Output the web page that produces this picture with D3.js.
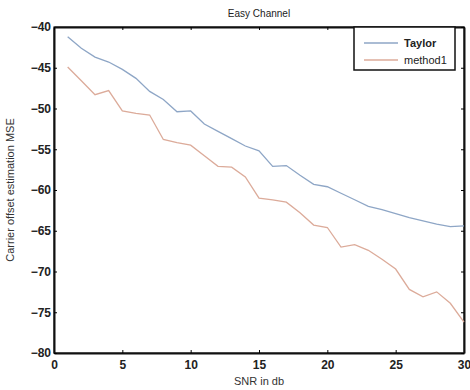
<!DOCTYPE html>
<html lang="en">
	<head>
		<meta charset="utf-8">
		<title>easy channel</title>
		<script type="text/javascript" src="https://cdn.jsdelivr.net/npm/d3@7"></script>
		<style type="text/css">
			body{margin:0;background:#fff}
			text{font-family:"Liberation Sans",Arial,sans-serif}
		</style>
	</head>
	<body>
		<div id="chart"></div>
		<script type="text/javascript">

var snr = d3.range(1,31)
var taylor = [-41.2,-42.6,-43.7,-44.3,-45.2,-46.3,-47.9,-48.9,-50.4,-50.3,
	-51.9,-52.8,-53.7,-54.6,-55.2,-57.1,-57.0,-58.2,-59.3,-59.6,
	-60.4,-61.2,-62.0,-62.4,-62.9,-63.4,-63.8,-64.2,-64.5,-64.4]
var method1 = [-44.9,-46.6,-48.3,-47.8,-50.3,-50.6,-50.8,-53.8,-54.2,-54.5,
	-55.8,-57.1,-57.2,-58.4,-61.0,-61.2,-61.5,-62.8,-64.3,-64.6,
	-67.0,-66.7,-67.4,-68.5,-69.7,-72.2,-73.1,-72.5,-73.9,-76.2]
var xTicks = [0,5,10,15,20,25,30]
var yTicks = [-40,-45,-50,-55,-60,-65,-70,-75,-80]
var seriesNames = ["Taylor","method1"]
var colors = ["#8ea6c6","#dcab9a"]

var w = 470, h = 390
var pLeft = 54, pRight = 464, pTop = 27, pBottom = 353

var svg = d3.select("#chart").append("svg")
	.attr("width",w).attr("height",h)

var xScale = d3.scaleLinear().domain([0,30]).range([pLeft,pRight])
var yScale = d3.scaleLinear().domain([-80,-40]).range([pBottom,pTop])

var fmt = function(d){return d<0 ? "\u2212"+Math.abs(d) : d}

// box
svg.append("rect")
	.attr("x",pLeft).attr("y",pTop)
	.attr("width",pRight-pLeft).attr("height",pBottom-pTop)
	.attr("fill","none").attr("stroke","#222").attr("stroke-width",1.2)

// axes with inward ticks
svg.append("g")
	.attr("transform","translate(0,"+pBottom+")")
	.call(d3.axisBottom(xScale).tickValues(xTicks).tickSizeInner(-3).tickSizeOuter(0).tickPadding(7).tickFormat(fmt))
svg.append("g")
	.attr("transform","translate("+pLeft+",0)")
	.call(d3.axisLeft(yScale).tickValues(yTicks).tickSizeInner(-3).tickSizeOuter(0).tickPadding(3).tickFormat(fmt))
svg.append("g")
	.attr("transform","translate(0,"+pTop+")")
	.call(d3.axisTop(xScale).tickValues(xTicks).tickSizeInner(-3).tickSizeOuter(0).tickFormat(""))
svg.append("g")
	.attr("transform","translate("+pRight+",0)")
	.call(d3.axisRight(yScale).tickValues(yTicks).tickSizeInner(-3).tickSizeOuter(0).tickFormat(""))

svg.selectAll(".domain").attr("stroke","#111").attr("stroke-width",2)
svg.selectAll(".tick text").attr("font-size",12).attr("font-weight","bold").attr("fill","#222")
	.attr("font-family","'Liberation Sans',Arial,sans-serif")

// lines
var line = d3.line()
	.x(function(d,i){return xScale(snr[i])})
	.y(function(d){return yScale(d)})

var all = [taylor,method1]
for(var s=0; s<all.length; s++){
	svg.append("path")
		.datum(all[s])
		.attr("d",line)
		.attr("fill","none")
		.attr("stroke",colors[s])
		.attr("stroke-width",1.3)
}

// title and labels
svg.append("text").text("Easy Channel")
	.attr("x",(pLeft+pRight)/2).attr("y",17)
	.attr("text-anchor","middle").attr("font-size",10).attr("fill","#222")
svg.append("text").text("SNR in db")
	.attr("x",(pLeft+pRight)/2).attr("y",385)
	.attr("text-anchor","middle").attr("font-size",11).attr("fill","#333")
svg.append("text").text("Carrier offset estimation MSE")
	.attr("transform","translate(14,"+((pTop+pBottom)/2)+") rotate(-90)")
	.attr("text-anchor","middle").attr("font-size",11).attr("fill","#333")

// legend
var lg = svg.append("g")
lg.append("rect")
	.attr("x",354).attr("y",27).attr("width",101).attr("height",43)
	.attr("fill","#fff").attr("stroke","#111").attr("stroke-width",1.5)
for(var s=0; s<seriesNames.length; s++){
	var ly = 43+s*17
	lg.append("line")
		.attr("x1",364).attr("x2",398).attr("y1",ly).attr("y2",ly)
		.attr("stroke",colors[s]).attr("stroke-width",1.3)
	lg.append("text").text(seriesNames[s])
		.attr("x",404).attr("y",ly+4)
		.attr("font-size",11).attr("fill","#222")
		.attr("font-weight",s==0 ? "bold" : "normal")
}

		</script>
	</body>
</html>
